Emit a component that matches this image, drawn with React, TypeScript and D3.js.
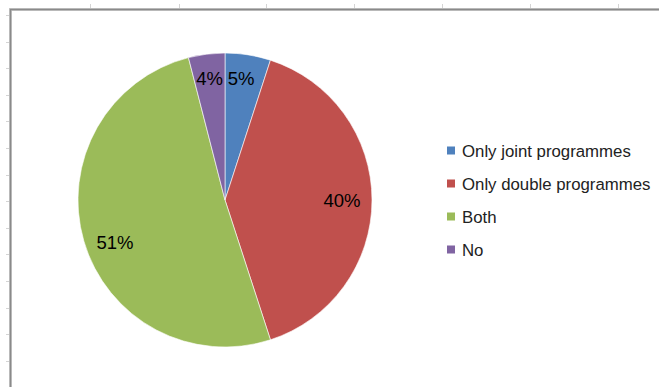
import React from "react";
import * as d3 from "d3";

const categories = ["Only joint programmes", "Only double programmes", "Both", "No"];
const values = [5, 40, 51, 4];
const labels = ["5%", "40%", "51%", "4%"];
const colors = ["#4F81BD", "#C0504D", "#9BBB59", "#8064A2"];
const colTicks = [90, 179, 266, 354, 442, 530, 618];
const rowTickCount = 14;

const W = 659;
const H = 387;
// label placement tweaks (radius, angle shift in degrees) mimicking Excel "best fit"
const labelRadius = [123, 117, 118, 123];
const labelShift = [-1.5, 0, -5, 0];

export default function App() {
  const cx = 225;
  const cy = 200;
  const r = 147;
  const pie = d3.pie<number>().sort(null).value((d) => d)(values);
  const arc = d3.arc<d3.PieArcDatum<number>>().innerRadius(0).outerRadius(r);
  const rowY = d3.range(rowTickCount).map((i) => 15 + i * 26.6);
  const legendY = d3.scalePoint<string>().domain(categories).range([150.5, 249.5]);

  return (
    <svg
      width={W}
      height={H}
      style={{ position: "absolute", left: 0, top: 0, background: "#fff" }}
      fontFamily="'Liberation Sans', Arial, sans-serif"
    >
      <rect x={0} y={0} width={W} height={H} fill="#fff" />
      {colTicks.map((x) => (
        <line key={"c" + x} x1={x + 0.5} x2={x + 0.5} y1={4} y2={9} stroke="#d4d4d4" />
      ))}
      {rowY.map((y) => (
        <line key={"r" + y} x1={6} x2={10} y1={Math.round(y) + 0.5} y2={Math.round(y) + 0.5} stroke="#d4d4d4" />
      ))}
      <path d={`M10.5,${H} V9.5 H${W}`} fill="none" stroke="#c8c8c8" strokeWidth={3} />
      <path d={`M10.5,${H} V9.5 H${W}`} fill="none" stroke="#8a8a8a" strokeWidth={1.5} />
      <g transform={`translate(${cx},${cy})`}>
        {pie.map((p, i) => (
          <path key={i} d={arc(p) || ""} fill={colors[i]} stroke="#fff" strokeWidth={0.6} />
        ))}
        {pie.map((p, i) => {
          const a = (p.startAngle + p.endAngle) / 2 + (labelShift[i] * Math.PI) / 180;
          const lr = labelRadius[i];
          const lx = lr * Math.sin(a);
          const ly = -lr * Math.cos(a);
          return (
            <text
              key={"l" + i}
              x={lx}
              y={ly}
              dy="0.36em"
              textAnchor="middle"
              fontSize={18.5}
              fill="#000"
            >
              {labels[i]}
            </text>
          );
        })}
      </g>
      {categories.map((c, i) => {
        const y = legendY(c) || 0;
        return (
          <g key={"lg" + i}>
            <rect x={447} y={y - 4} width={8} height={8} fill={colors[i]} />
            <text x={462} y={y} dy="0.36em" fontSize={16.8} fill="#222">
              {c}
            </text>
          </g>
        );
      })}
    </svg>
  );
}
